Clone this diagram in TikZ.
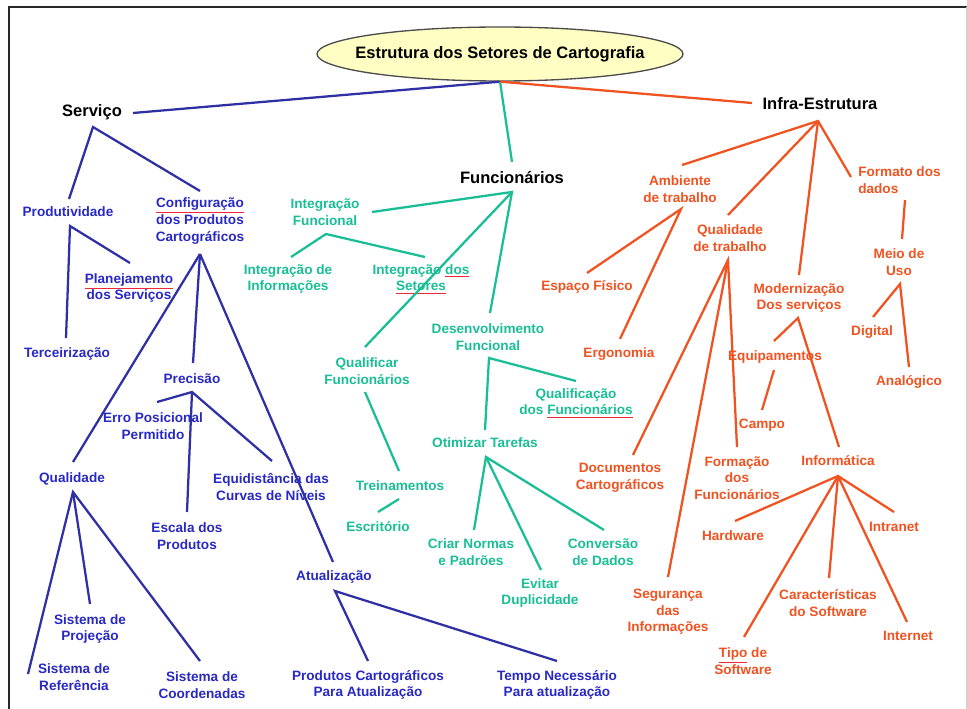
\documentclass[tikz,border=0pt]{standalone}
\usepackage{fontspec}
\setmainfont{Liberation Sans}
\usetikzlibrary{shapes.geometric}

\definecolor{blueline}{RGB}{48,48,165}
\definecolor{bluetxt}{RGB}{40,40,195}
\definecolor{greenc}{RGB}{25,190,150}
\definecolor{redc}{RGB}{240,82,32}
\definecolor{spellred}{RGB}{235,40,60}
\definecolor{titlefill}{RGB}{255,255,195}
\definecolor{framec}{RGB}{40,40,40}

\newcommand\lblfont{\bfseries\fontsize{10.2}{12.4}\selectfont}
\newcommand\hdrfont{\bfseries\fontsize{12.4}{14}\selectfont}
% word with a red spell-check underline
\newcommand\squig[1]{\colorlet{keeptxt}{.}{\color{spellred}\underline{\textcolor{keeptxt}{#1}}}}

\tikzset{
  lbl/.style={inner sep=0pt, align=center, font=\lblfont},
  hdr/.style={inner sep=0pt, font=\hdrfont, text=black},
  bl/.style={lbl, text=bluetxt},
  gr/.style={lbl, text=greenc},
  rd/.style={lbl, text=redc},
  bedge/.style={draw=blueline, line width=1.7pt},
  gedge/.style={draw=greenc, line width=1.7pt},
  redge/.style={draw=redc, line width=1.7pt},
}

\begin{document}
\begin{tikzpicture}[x=0.75pt, y=-0.75pt]
\useasboundingbox (0,0) rectangle (967,709);

% outer frame
\draw[framec, line width=1.5pt] (9,712) -- (9,7) -- (970,7);
\draw[black!20, line width=0.6pt] (966,7) -- (966,712);

% title: the ellipse size is fixed, the text does not widen it
\node[ellipse, draw=black!70, line width=1pt, fill=titlefill,
      minimum width=274.5pt, minimum height=40.5pt, inner sep=0pt,
      font=\hdrfont] (title) at (500,54)
      {\makebox[0pt]{Estrutura dos Setores de Cartografia}};

% ---------- headers ----------
\node[hdr] (serv)  at (92,112)  {Serviço};
\node[hdr] (func)  at (512,178) {Funcionários};
\node[hdr] (infra) at (820,104) {Infra-Estrutura};

% ---------- Serviço (blue) ----------
\node[bl] (prod)   at (68,212)  {Produtividade};
\node[bl] (conf)   at (200,221) {\squig{Configuração}\\dos Produtos\\Cartográficos};
\node[bl] (plan)   at (129,288) {\squig{Planejamento}\\dos Serviços};
\node[bl] (terc)   at (67,354)  {Terceirização};
\node[bl] (prec)   at (192,379) {Precisão};
\node[bl] (erro)   at (153,426) {Erro Posicional\\Permitido};
\node[bl] (esc)    at (187,536) {Escala dos\\Produtos};
\node[bl] (equi)   at (271,487) {Equidistância das\\Curvas de Níveis};
\node[bl] (qual)   at (72,479)  {Qualidade};
\node[bl] (atua)   at (334,577) {Atualização};
\node[bl] (sref)   at (74,677)  {Sistema de\\Referência};
\node[bl] (sproj)  at (90,629)  {Sistema de\\Projeção};
\node[bl] (scoord) at (202,685) {Sistema de\\Coordenadas};
\node[bl] (prodc)  at (368,685) {Produtos Cartográficos\\Para Atualização};
\node[bl] (tempo)  at (557,685) {Tempo Necessário\\Para atualização};

% ---------- Funcionários (green) ----------
\node[gr] (intf)  at (325,212) {Integração\\Funcional};
\node[gr] (inti)  at (288,279) {Integração de\\Informações};
\node[gr] (ints)  at (421,279) {Integração \squig{dos}\\\squig{Setores}};
\node[gr] (desf)  at (488,337) {Desenvolvimento\\Funcional};
\node[gr] (qualf) at (576,403) {Qualificação\\dos \squig{Funcionários}};
\node[gr] (qlf)   at (367,371) {Qualificar\\Funcionários};
\node[gr] (trei)  at (400,486) {Treinamentos};
\node[gr] (escr)  at (378,527) {Escritório};
\node[gr] (otim)  at (485,443) {Otimizar Tarefas};
\node[gr] (criar) at (471,552) {Criar Normas\\e Padrões};
\node[gr] (evit)  at (540,593) {Evitar\\Duplicidade};
\node[gr] (conv)  at (603,552) {Conversão\\de Dados};

% ---------- Infra-Estrutura (red) ----------
\node[rd] (amb)   at (680,189) {Ambiente\\de trabalho};
\node[rd] (qtrab) at (730,238) {Qualidade\\de trabalho};
\node[rd, align=left, anchor=west] (form) at (858,180) {Formato dos\\dados};
\node[rd] (mod)   at (799,298) {Modernização\\Dos serviços};
\node[rd] (esp)   at (587,287) {Espaço Físico};
\node[rd] (ergo)  at (619,354) {Ergonomia};
\node[rd] (doc)   at (620,478) {Documentos\\Cartográficos};
\node[rd] (seg)   at (668,612) {Segurança\\das\\Informações};
\node[rd] (formf) at (737,478) {Formação\\dos\\Funcionários};
\node[rd] (equip) at (775,357) {Equipamentos};
\node[rd] (campo) at (762,425) {Campo};
\node[rd] (info)  at (838,461) {Informática};
\node[rd] (hard)  at (733,536) {Hardware};
\node[rd] (intra) at (894,527) {Intranet};
\node[rd] (carac) at (828,603) {Características\\do Software};
\node[rd] (inter) at (908,636) {Internet};
\node[rd] (tipo)  at (743,661) {\squig{Tipo} de\\Software};
\node[rd] (meio)  at (899,262) {Meio de\\Uso};
\node[rd] (dig)   at (872,332) {Digital};
\node[rd] (ana)   at (909,382) {Analógico};

% ---------- connector end points ----------
\coordinate (serv-e) at (133,113);  \coordinate (serv-j) at (93,127);
\coordinate (prod-n) at (69,199);   \coordinate (prod-j) at (70,226);
\coordinate (conf-n) at (200,191);  \coordinate (conf-j) at (200,254);
\coordinate (plan-n) at (130,263);
\coordinate (terc-n) at (66,338);
\coordinate (prec-n) at (193,363);  \coordinate (prec-j) at (192,392);
\coordinate (erro-n) at (157,402);
\coordinate (esc-n)  at (187,512);
\coordinate (equi-n) at (272,461);
\coordinate (qual-n) at (73,462);   \coordinate (qual-j) at (73,492);
\coordinate (atua-n) at (333,562);  \coordinate (atua-j) at (335,591);
\coordinate (sref-n) at (28,674);
\coordinate (sproj-n) at (90,604);
\coordinate (scoord-n) at (200,661);
\coordinate (prodc-n) at (368,661);
\coordinate (tempo-n) at (557,661);

\coordinate (func-n) at (512,162);  \coordinate (func-j) at (512,192);
\coordinate (intf-e) at (372,212);  \coordinate (intf-j) at (326,234);
\coordinate (inti-n) at (291,257);
\coordinate (ints-n) at (425,257);
\coordinate (desf-n) at (490,313);  \coordinate (desf-j) at (489,358);
\coordinate (qualf-n) at (576,381);
\coordinate (qlf-n)  at (365,347);  \coordinate (qlf-s) at (365,392);
\coordinate (trei-n) at (399,471);  \coordinate (trei-s) at (399,499);
\coordinate (escr-n) at (378,512);
\coordinate (otim-n) at (485,430);  \coordinate (otim-j) at (486,457);
\coordinate (criar-n) at (474,530);
\coordinate (evit-n) at (541,570);
\coordinate (conv-n) at (604,530);

\coordinate (infra-w) at (752,103); \coordinate (infra-j) at (818,121);
\coordinate (amb-n) at (682,165);   \coordinate (amb-j) at (681,209);
\coordinate (qtrab-n) at (728,215); \coordinate (qtrab-j) at (728,260);
\coordinate (form-w) at (851,177);  \coordinate (form-s) at (905,200);
\coordinate (mod-n) at (799,275);   \coordinate (mod-j) at (798,318);
\coordinate (esp-n) at (587,273);
\coordinate (ergo-n) at (620,339);
\coordinate (doc-n) at (633,455);
\coordinate (seg-n) at (668,577);
\coordinate (formf-n) at (737,447);
\coordinate (equip-n) at (774,341); \coordinate (equip-s) at (774,370);
\coordinate (campo-n) at (762,410);
\coordinate (info-n) at (839,447);  \coordinate (info-j) at (838,476);
\coordinate (hard-n) at (735,521);
\coordinate (intra-n) at (894,512);
\coordinate (carac-n) at (829,578);
\coordinate (inter-n) at (907,622);
\coordinate (tipo-n) at (744,637);
\coordinate (meio-n) at (902,239);  \coordinate (meio-j) at (900,284);
\coordinate (dig-n) at (873,317);
\coordinate (ana-n) at (909,367);

% ---------- connectors: Serviço ----------
\draw[bedge] (title.south) -- (serv-e);
\draw[bedge] (prod-n) -- (serv-j) -- (conf-n);
\draw[bedge] (plan-n) -- (prod-j) -- (terc-n);
\draw[bedge] (conf-j) -- (qual-n);
\draw[bedge] (conf-j) -- (prec-n);
\draw[bedge] (conf-j) -- (atua-n);
\draw[bedge] (erro-n) -- (prec-j) -- (equi-n);
\draw[bedge] (prec-j) -- (esc-n);
\draw[bedge] (sref-n) -- (qual-j) -- (scoord-n);
\draw[bedge] (qual-j) -- (sproj-n);
\draw[bedge] (prodc-n) -- (atua-j) -- (tempo-n);

% ---------- connectors: Funcionários ----------
\draw[gedge] (title.south) -- (func-n);
\draw[gedge] (intf-e) -- (func-j) -- (desf-n);
\draw[gedge] (func-j) -- (qlf-n);
\draw[gedge] (inti-n) -- (intf-j) -- (ints-n);
\draw[gedge] (otim-n) -- (desf-j) -- (qualf-n);
\draw[gedge] (qlf-s) -- (trei-n);
\draw[gedge] (trei-s) -- (escr-n);
\draw[gedge] (criar-n) -- (otim-j) -- (conv-n);
\draw[gedge] (otim-j) -- (evit-n);

% ---------- connectors: Infra-Estrutura ----------
\draw[redge] (title.south) -- (infra-w);
\draw[redge] (amb-n) -- (infra-j) -- (form-w);
\draw[redge] (infra-j) -- (qtrab-n);
\draw[redge] (infra-j) -- (mod-n);
\draw[redge] (esp-n) -- (amb-j) -- (ergo-n);
\draw[redge] (doc-n) -- (qtrab-j) -- (formf-n);
\draw[redge] (qtrab-j) -- (seg-n);
\draw[redge] (equip-n) -- (mod-j) -- (info-n);
\draw[redge] (equip-s) -- (campo-n);
\draw[redge] (hard-n) -- (info-j) -- (intra-n);
\draw[redge] (info-j) -- (tipo-n);
\draw[redge] (info-j) -- (carac-n);
\draw[redge] (info-j) -- (inter-n);
\draw[redge] (form-s) -- (meio-n);
\draw[redge] (dig-n) -- (meio-j) -- (ana-n);
\end{tikzpicture}
\end{document}
